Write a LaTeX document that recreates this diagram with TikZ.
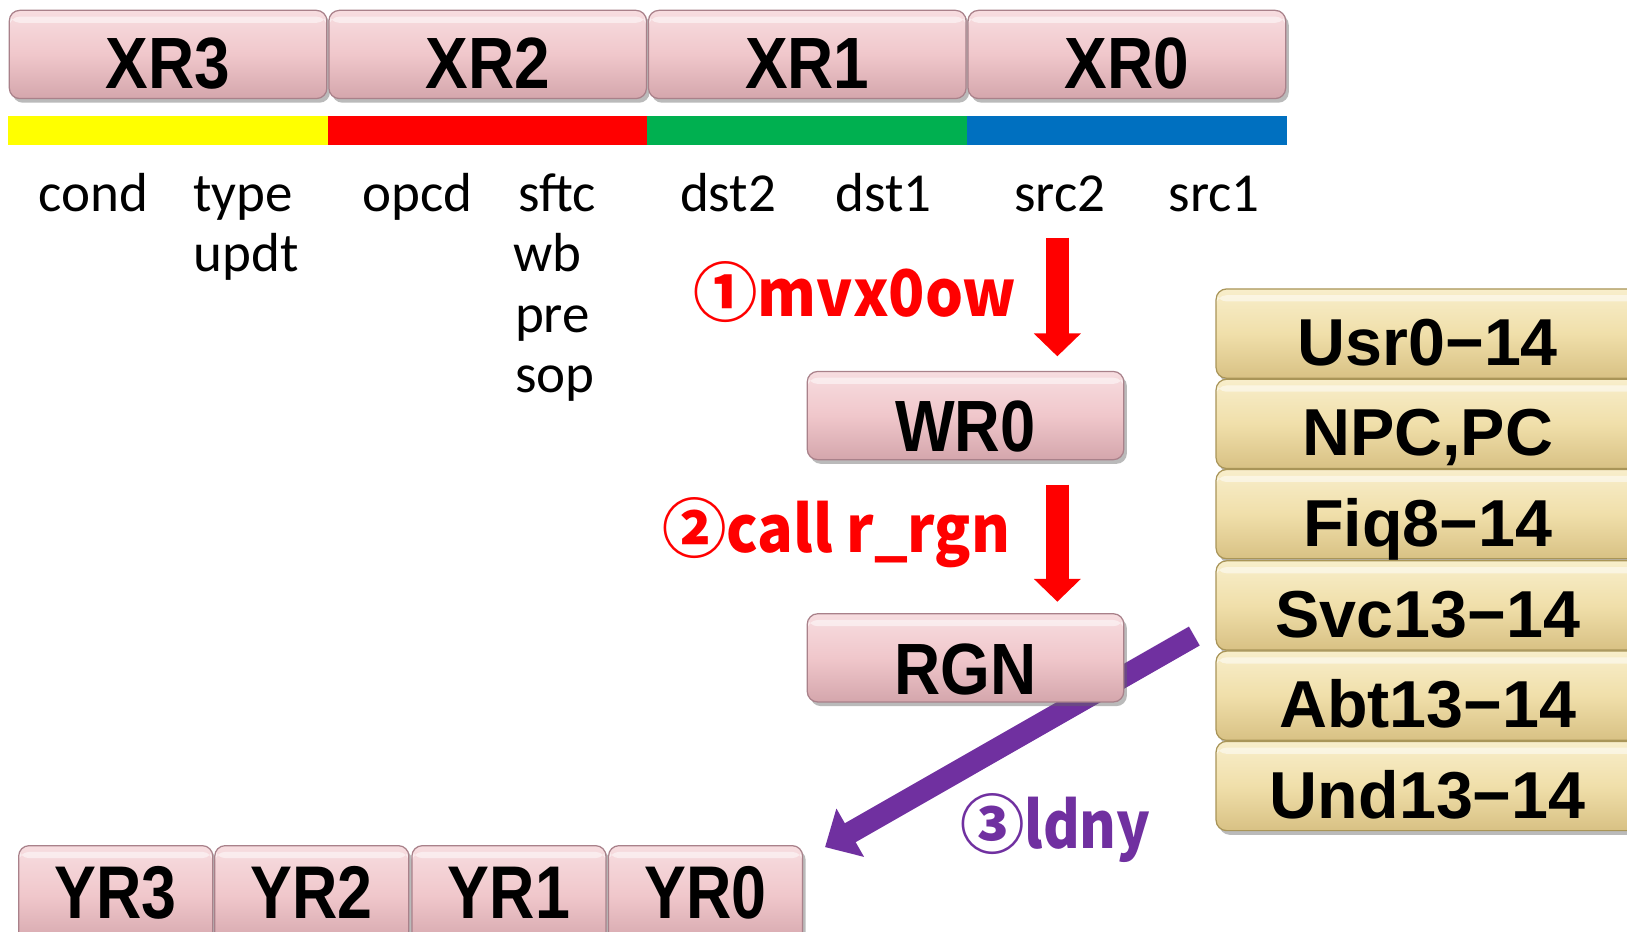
\documentclass[tikz,border=0pt]{standalone}
\usepackage{fontspec}
\usepackage{graphicx}
\setmainfont{Carlito}
\newfontfamily\boxfont{Liberation Sans}
\newfontfamily\jpfont{Noto Sans CJK JP}
\usetikzlibrary{shadows,arrows.meta}

\definecolor{pinkT}{HTML}{F7DDE0}
\definecolor{pinkM}{HTML}{F0C7CB}
\definecolor{pinkB}{HTML}{D4A6AC}
\definecolor{pinkE}{HTML}{A9818A}
\definecolor{tanT}{HTML}{F8EECB}
\definecolor{tanM}{HTML}{F0DFAA}
\definecolor{tanB}{HTML}{D8C184}
\definecolor{tanE}{HTML}{A99558}
\definecolor{fldYellow}{HTML}{FFFF00}
\definecolor{fldRed}{HTML}{FF0000}
\definecolor{fldGreen}{HTML}{00B050}
\definecolor{fldBlue}{HTML}{0070C0}
\definecolor{stepRed}{HTML}{FF0000}
\definecolor{stepPurple}{HTML}{7030A0}

\begin{document}
\begin{tikzpicture}[x=0.5pt,y=-0.5pt,
  bevel/.style={rounded corners=5pt, line width=0.6pt, inner sep=0pt,
    drop shadow={shadow xshift=1.5pt,shadow yshift=-2pt,opacity=0.45,fill=black!60},
    path picture={\fill[white,opacity=0.5]
      ([yshift=-3pt]path picture bounding box.north west) rectangle
      ([yshift=-6pt]path picture bounding box.north east);}},
  pinkbox/.style={bevel, draw=pinkE, top color=pinkT, bottom color=pinkB, middle color=pinkM},
  tanbox/.style={bevel, draw=tanE, top color=tanT, bottom color=tanB, middle color=tanM,
    minimum width=204pt, minimum height=43pt,
    font=\boxfont\bfseries\fontsize{32}{32}\selectfont, text height=30.9pt, text depth=0pt},
  xrbox/.style={pinkbox, minimum width=153pt, minimum height=42.5pt,
    font=\boxfont\bfseries\fontsize{35}{35}\selectfont, text height=33pt, text depth=0pt},
  opbox/.style={xrbox, minimum width=152.5pt, text height=35pt},
  yrbox/.style={pinkbox, minimum width=93.5pt, minimum height=48pt,
    font=\boxfont\bfseries\fontsize{36}{36}\selectfont, text height=22pt, text depth=0pt},
  fieldlbl/.style={anchor=base west, inner sep=0pt, font=\fontsize{26.5}{30}\selectfont},
  steplbl/.style={anchor=base west, inner sep=0pt, font=\jpfont\bfseries\fontsize{31}{33}\selectfont},
  redarrow/.style={draw=stepRed, line width=11pt, -{Triangle[length=11pt,width=22pt]}},
  purplearrow/.style={draw=stepPurple, line width=10.5pt, -{Triangle[length=14pt,width=26pt]}}
]
\useasboundingbox (0,0) rectangle (1568,898);
\fill[white] (0,0) rectangle (1568,898);
\clip (0,0) rectangle (1568,898);

% source register row
\node[xrbox] (xr3) at (162,52.5)  {\scalebox{0.88}[1]{XR3}};
\node[xrbox] (xr2) at (470,52.5)  {\scalebox{0.88}[1]{XR2}};
\node[xrbox] (xr1) at (778,52.5)  {\scalebox{0.88}[1]{XR1}};
\node[xrbox] (xr0) at (1086,52.5) {\scalebox{0.88}[1]{XR0}};

% field colour bar
\fill[fldYellow] (8,112)   rectangle (316,140);
\fill[fldRed]    (316,112) rectangle (624,140);
\fill[fldGreen]  (624,112) rectangle (932,140);
\fill[fldBlue]   (932,112) rectangle (1240,140);

% field names
\node[fieldlbl] (fcond) at (37,204)   {cond};
\node[fieldlbl] (ftype) at (186,204)  {type};
\node[fieldlbl] (fupdt) at (186,262)  {updt};
\node[fieldlbl] (fopcd) at (349,204)  {opcd};
\node[fieldlbl] (fsftc) at (499,204)  {sftc};
\node[fieldlbl] (fwb)   at (494,262)  {wb};
\node[fieldlbl] (fpre)  at (496,320)  {pre};
\node[fieldlbl] (fsop)  at (496,378)  {sop};
\node[fieldlbl] (fdst2) at (655,204)  {dst2};
\node[fieldlbl] (fdst1) at (805,204)  {dst1};
\node[fieldlbl] (fsrc2) at (977,204)  {src2};
\node[fieldlbl] (fsrc1) at (1126,204) {src1};

% banked register stack
\node[tanbox] (usr) at (1376,321.5) {Usr0−14};
\node[tanbox] (npc) at (1376,408.5) {NPC,PC};
\node[tanbox] (fiq) at (1376,495.5) {Fiq8−14};
\node[tanbox] (svc) at (1376,583.5) {Svc13−14};
\node[tanbox] (abt) at (1376,670.5) {Abt13−14};
\node[tanbox] (und) at (1376,757.5) {Und13−14};

% destination register row
\node[yrbox] (yr3) at (111.5,863) {\scalebox{0.84}[1]{YR3}};
\node[yrbox] (yr2) at (300.5,863) {\scalebox{0.84}[1]{YR2}};
\node[yrbox] (yr1) at (490.5,863) {\scalebox{0.84}[1]{YR1}};
\node[yrbox] (yr0) at (680,863)   {\scalebox{0.84}[1]{YR0}};

% load path from the stack to the destination row (runs behind RGN)
\coordinate (p0) at (1151,613);
\draw[purplearrow] (p0) -- ([xshift=10.5pt,yshift=-1pt]yr0.north east);

% work register and region
\node[opbox] (wr0) at (930.5,400.5) {\scalebox{0.87}[1]{WR0}};
\node[opbox] (rgn) at (930.5,634)   {\scalebox{0.88}[1]{RGN}};

% step labels
\node[steplbl, text=stepRed]    (step1) at (668,305) {①\scalebox{0.93}[1]{mvx0ow}};
\node[steplbl, text=stepRed]    (step2) at (638,532) {②\scalebox{0.92}[1]{call r\_rgn}};
\node[steplbl, text=stepPurple] (step3) at (925,818) {③\scalebox{0.87}[1]{ldny}};

% step arrows
\coordinate (r1s) at (1019,229);
\coordinate (r2s) at (1019,467);
\draw[redarrow, shorten >=7pt] (r1s) -- (r1s |- wr0.north);
\draw[redarrow, shorten >=5.5pt] (r2s) -- (r2s |- rgn.north);
\end{tikzpicture}
\end{document}
